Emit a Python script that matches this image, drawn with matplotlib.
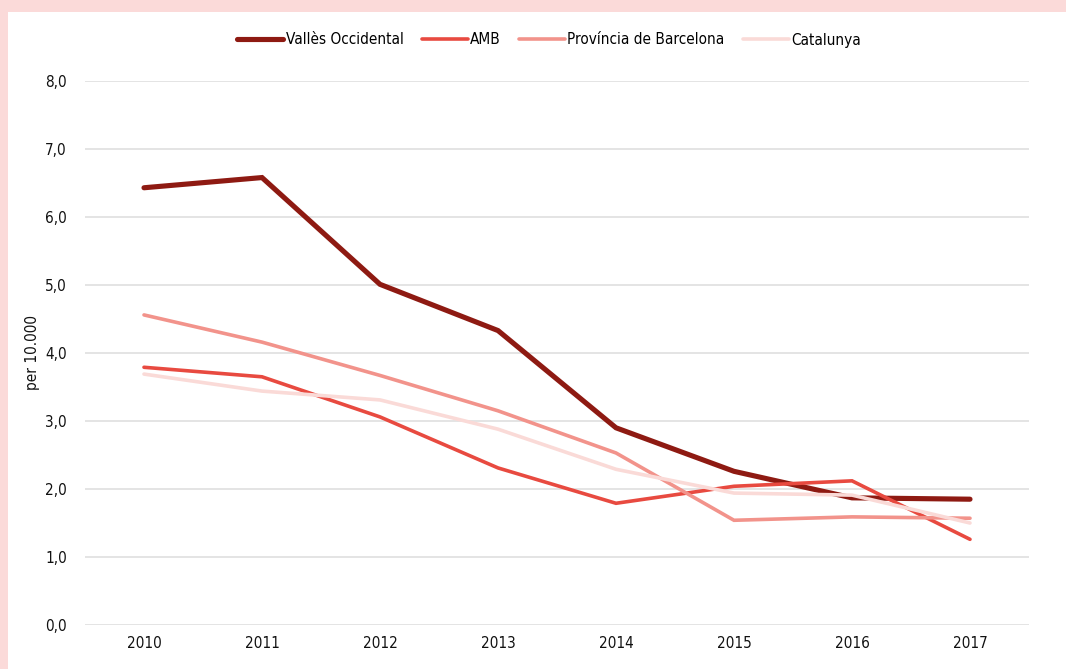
import matplotlib
matplotlib.use("Agg")
import matplotlib.pyplot as plt
from matplotlib.patches import Rectangle

years = ["2010", "2011", "2012", "2013", "2014", "2015", "2016", "2017"]
valles = [6.43, 6.58, 5.01, 4.33, 2.90, 2.26, 1.87, 1.85]
amb = [3.79, 3.65, 3.06, 2.31, 1.79, 2.04, 2.12, 1.26]
provincia = [4.56, 4.16, 3.67, 3.15, 2.53, 1.54, 1.59, 1.57]
catalunya = [3.69, 3.44, 3.31, 2.88, 2.29, 1.94, 1.91, 1.50]
series_names = ["Vallès Occidental", "AMB", "Província de Barcelona", "Catalunya"]
y_ticks = [0, 1, 2, 3, 4, 5, 6, 7, 8]

plt.rcParams["font.family"] = ["DejaVu Sans"]
plt.rcParams["font.stretch"] = "condensed"

W, H = 1066, 669
fig = plt.figure(figsize=(W / 100, H / 100), dpi=100)
fig.patch.set_facecolor("#FBDAD9")
fig.patches.append(Rectangle((8 / W, 0), 1, 1 - 12 / H, transform=fig.transFigure,
                             facecolor="white", edgecolor="none", zorder=-10))

ax = fig.add_axes([85 / W, 44 / H, 944 / W, 544 / H])
ax.set_facecolor("none")

x = list(range(len(years)))
styles = [
    (valles, "#8E1A12", 3.7),
    (amb, "#E84A40", 2.6),
    (provincia, "#F2938B", 2.6),
    (catalunya, "#FADAD7", 2.6),
]
for (vals, color, lw), name in zip(styles, series_names):
    ax.plot(x, vals, color=color, linewidth=lw, label=name,
            solid_capstyle="round", solid_joinstyle="miter", zorder=3)

ax.set_xlim(-0.5, len(years) - 0.5)
ax.set_ylim(0, 8)
ax.set_xticks(x)
ax.set_xticklabels(years)
ax.set_yticks(y_ticks)
ax.set_yticklabels([f"{v:.1f}".replace(".", ",") for v in y_ticks])
ax.tick_params(length=0, labelsize=11, colors="#111111")
ax.tick_params(axis="x", pad=8)
ax.tick_params(axis="y", pad=13)
ax.grid(axis="y", color="#DDDDDD", linewidth=1.1)
ax.set_axisbelow(True)
for s in ax.spines.values():
    s.set_visible(False)

ax.set_ylabel("per 10.000", fontsize=11, color="#111111", labelpad=4)

leg = fig.legend(loc="center", bbox_to_anchor=(549 / W, 1 - 40 / H), ncol=4,
                 frameon=False, fontsize=11, handlelength=3.0, handletextpad=0.15,
                 columnspacing=1.2)

fig.savefig("out.png", dpi=100, facecolor=fig.get_facecolor())
